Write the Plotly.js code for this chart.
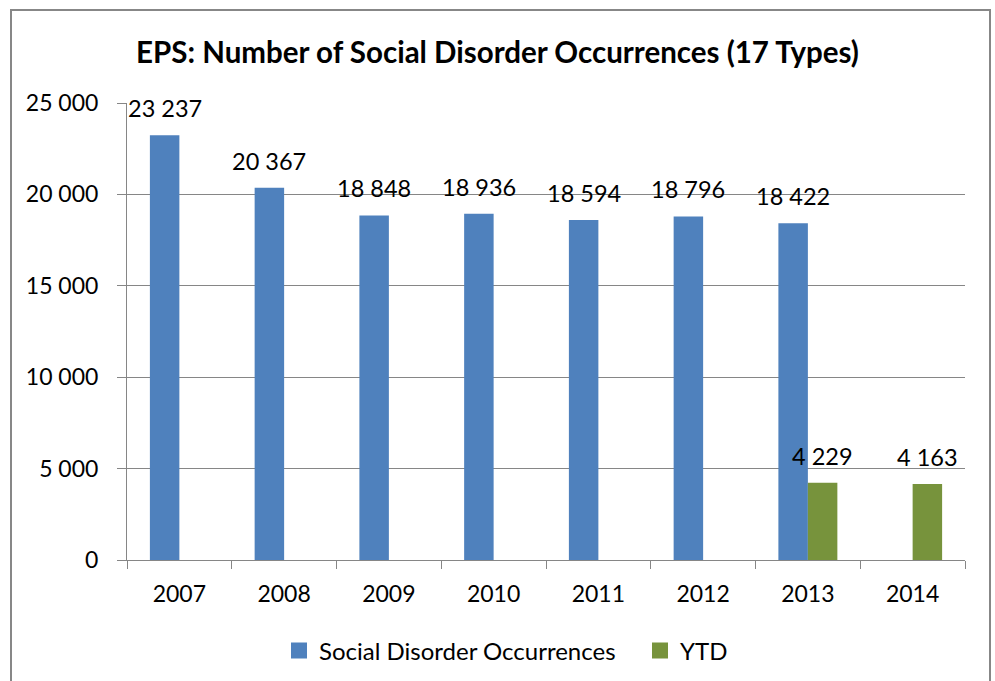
<!DOCTYPE html>
<html>
<head>
<meta charset="utf-8">
<script src="https://cdn.plot.ly/plotly-3.0.1.min.js"></script>
<style>
  html, body { margin: 0; padding: 0; background: #fff; }
  #wrap { position: relative; width: 995px; height: 681px; overflow: hidden; }
  #chart { position: absolute; left: 0; top: 0; width: 995px; height: 681px; }
  #frame { position: absolute; left: 10px; top: 9px; width: 977px; height: 700px;
           border: 2px solid #878787; pointer-events: none; }
</style>
</head>
<body>
<div id="wrap">
  <div id="chart"></div>
  <div id="frame"></div>
</div>
<script>
const years = ['2007', '2008', '2009', '2010', '2011', '2012', '2013', '2014'];
const occurrences = [23237, 20367, 18848, 18936, 18594, 18796, 18422, null];
const ytd = [null, null, null, null, null, null, 4229, 4163];
const yTicks = [0, 5000, 10000, 15000, 20000, 25000];

const BLUE = '#4F81BD';
const GREEN = '#77933C';

function fmt(v) {
  if (v === null) return '';
  return String(v).replace(/\B(?=(\d{3})+(?!\d))/g, ' ');
}

const FONT = 'Lato, "Open Sans", "DejaVu Sans", sans-serif';

const traces = [
  {
    type: 'bar', name: 'Social Disorder Occurrences',
    x: years, y: occurrences,
    marker: { color: BLUE }, showlegend: false
  },
  {
    type: 'bar', name: 'YTD',
    x: years, y: ytd,
    marker: { color: GREEN }, showlegend: false
  },
  // legend entries with larger square keys (no visible points)
  {
    type: 'scatter', mode: 'markers', name: 'Social Disorder Occurrences',
    x: years, y: years.map(() => null),
    marker: { symbol: 'square', size: 16, color: BLUE }
  },
  {
    type: 'scatter', mode: 'markers', name: 'YTD',
    x: years, y: years.map(() => null),
    marker: { symbol: 'square', size: 16, color: GREEN }
  }
];

const BAR_HALF = 14.7;   // half a bar width in px, to center labels over each bar of the group
const annotations = [];
function addLabels(values, shift) {
  values.forEach((v, i) => {
    if (v === null) return;
    annotations.push({
      x: i, y: v, xref: 'x', yref: 'y',   // category index of years[i]
      text: fmt(v), showarrow: false,
      xanchor: 'center', yanchor: 'bottom',
      xshift: shift, yshift: 11,
      font: { family: FONT, size: 23.5, color: '#000' }
    });
  });
}
addLabels(occurrences, -BAR_HALF);
addLabels(ytd, BAR_HALF);

const layout = {
  width: 995, height: 681,
  margin: { l: 127, r: 30, t: 103, b: 121, pad: 0 },
  paper_bgcolor: '#fff', plot_bgcolor: '#fff',
  font: { family: FONT, size: 20, color: '#000' },
  title: {
    text: '<b>EPS: Number of Social Disorder Occurrences (17 Types)</b>',
    font: { family: FONT, size: 29.5, color: '#000' },
    x: 0.5, xref: 'container', xanchor: 'center',
    y: 1 - 53 / 681, yref: 'container', yanchor: 'middle'
  },
  barmode: 'group', bargap: 0.437, bargroupgap: 0,
  xaxis: {
    type: 'category', categoryorder: 'array', categoryarray: years,
    range: [-0.5, years.length - 0.5],
    tickson: 'boundaries',
    showgrid: false, showline: true, linecolor: '#868686', linewidth: 1,
    ticks: 'outside', ticklen: 8, tickcolor: '#868686', tickwidth: 1,
    ticklabelstandoff: 13, tickangle: 0,
    tickfont: { family: FONT, size: 23, color: '#000' },
    fixedrange: true
  },
  yaxis: {
    range: [0, 25000], tickvals: yTicks, ticktext: yTicks.map(fmt),
    showgrid: true, gridcolor: '#868686', gridwidth: 1,
    showline: true, linecolor: '#868686', linewidth: 1,
    ticks: 'outside', ticklen: 9, tickcolor: '#868686', tickwidth: 1,
    ticklabelstandoff: 14,
    tickfont: { family: FONT, size: 23, color: '#000' },
    zeroline: false, fixedrange: true
  },
  annotations: annotations,
  showlegend: true,
  legend: {
    orientation: 'h',
    x: 279 / 995, xref: 'container', xanchor: 'left',
    y: 1 - 651 / 681, yref: 'container', yanchor: 'middle',
    font: { family: FONT, size: 24, color: '#000' },
    itemwidth: 30, tracegroupgap: 0, entrywidth: 316
  }
};

Plotly.newPlot('chart', traces, layout, { displayModeBar: false, staticPlot: true });
</script>
</body>
</html>
